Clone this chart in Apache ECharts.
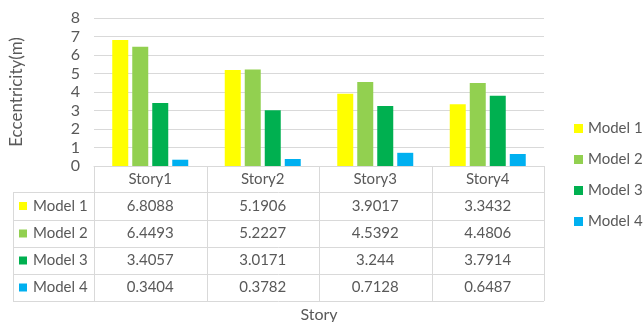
<!DOCTYPE html>
<html>
<head>
<meta charset="utf-8">
<script src="https://cdn.jsdelivr.net/npm/echarts@6/dist/echarts.min.js"></script>
<style>
  html, body { margin: 0; padding: 0; background: #fff; }
  #chart { width: 644px; height: 322px; }
</style>
</head>
<body>
<div id="chart"></div>
<script>
// Eccentricity per story for four models
const stories = ['Story1', 'Story2', 'Story3', 'Story4'];
const modelNames = ['Model 1', 'Model 2', 'Model 3', 'Model 4'];
const model1 = [6.8088, 5.1906, 3.9017, 3.3432];
const model2 = [6.4493, 5.2227, 4.5392, 4.4806];
const model3 = [3.4057, 3.0171, 3.244, 3.7914];
const model4 = [0.3404, 0.3782, 0.7128, 0.6487];
const modelColors = ['#FFFF00', '#92D050', '#00B050', '#00B0F0'];

const allValues = [model1, model2, model3, model4];
const FONT = 'Lato, "Liberation Sans", sans-serif';
const TEXT = '#595959';
const LINE = '#D9D9D9';

// plot area
const G = { left: 94, top: 18, right: 100, bottom: 156 };
const W = 644, H = 322;
const plotL = G.left, plotR = W - G.right, plotB = H - G.bottom;
const colW = (plotR - plotL) / stories.length;

// data table under the plot
const tableLeft = 13;
const headerBottom = 192;
const rowLines = [192, 220, 247, 274, 301];

const graphics = [];
function hline(y, x1, x2) {
  graphics.push({ type: 'line', shape: { x1: x1, y1: y + 0.5, x2: x2, y2: y + 0.5 },
    style: { stroke: LINE, lineWidth: 1 }, silent: true });
}
function vline(x, y1, y2) {
  graphics.push({ type: 'line', shape: { x1: x + 0.5, y1: y1, x2: x + 0.5, y2: y2 },
    style: { stroke: LINE, lineWidth: 1 }, silent: true });
}
rowLines.forEach(y => hline(y, tableLeft, plotR));
vline(tableLeft, headerBottom, rowLines[rowLines.length - 1]);
for (let i = 0; i <= stories.length; i++) {
  vline(Math.round(plotL + i * colW), plotB, rowLines[rowLines.length - 1]);
}
modelNames.forEach((name, r) => {
  const cy = (rowLines[r] + rowLines[r + 1]) / 2;
  graphics.push({ type: 'rect', shape: { x: 19, y: cy - 4, width: 8, height: 8 },
    style: { fill: modelColors[r] }, silent: true });
  graphics.push({ type: 'text', x: 33, y: cy,
    style: { text: name, fill: TEXT, font: '15px ' + FONT, textVerticalAlign: 'middle', textAlign: 'left' },
    silent: true });
  allValues[r].forEach((v, c) => {
    graphics.push({ type: 'text', x: plotL + (c + 0.5) * colW, y: cy,
      style: { text: String(v), fill: TEXT, font: '15px ' + FONT, textVerticalAlign: 'middle', textAlign: 'center' },
      silent: true });
  });
});

const chart = echarts.init(document.getElementById('chart'), null, { renderer: 'canvas' });
chart.setOption({
  animation: false,
  backgroundColor: '#fff',
  textStyle: { fontFamily: FONT },
  grid: { left: G.left, top: G.top, right: G.right, bottom: G.bottom, containLabel: false, outerBoundsMode: 'none' },
  legend: {
    orient: 'vertical',
    left: 574,
    top: 121,
    padding: 0,
    itemWidth: 9,
    itemHeight: 9,
    itemGap: 16,
    icon: 'rect',
    textStyle: { color: TEXT, fontSize: 15, fontFamily: FONT },
    data: modelNames
  },
  xAxis: {
    type: 'category',
    data: stories,
    name: 'Story',
    nameLocation: 'middle',
    nameGap: 141,
    nameTextStyle: { color: TEXT, fontSize: 16, fontFamily: FONT },
    axisLine: { lineStyle: { color: LINE } },
    axisTick: { show: false },
    axisLabel: { color: TEXT, fontSize: 15, fontFamily: FONT, margin: 6 }
  },
  yAxis: {
    type: 'value',
    min: 0,
    max: 8,
    interval: 1,
    name: 'Eccentricity(m)',
    nameLocation: 'middle',
    nameGap: 69,
    nameRotate: 90,
    nameTextStyle: { color: TEXT, fontSize: 17, fontFamily: FONT },
    axisLine: { show: false },
    axisTick: { show: false },
    axisLabel: { color: TEXT, fontSize: 16, fontFamily: FONT, margin: 14 },
    splitLine: { lineStyle: { color: LINE, width: 1 } }
  },
  series: modelNames.map((name, i) => ({
    name: name,
    type: 'bar',
    data: allValues[i],
    barWidth: 16,
    barGap: '25%',
    itemStyle: { color: modelColors[i] }
  })),
  graphic: graphics
});
</script>
</body>
</html>
